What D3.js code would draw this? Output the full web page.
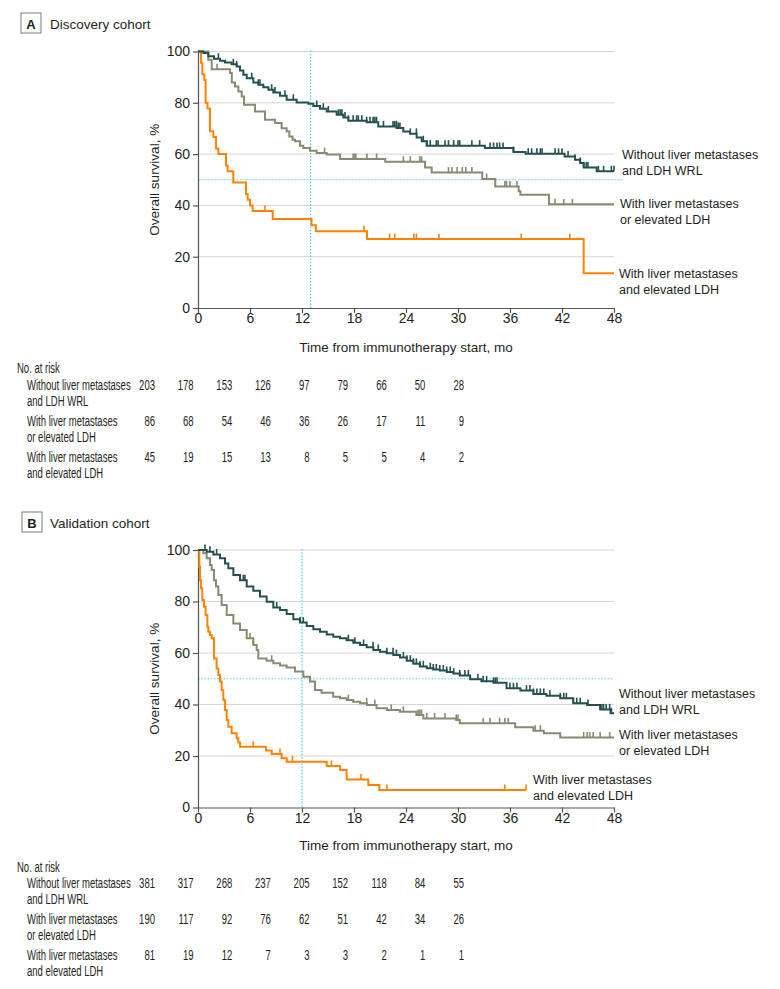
<!DOCTYPE html>
<html><head><meta charset="utf-8">
<script src="https://cdn.jsdelivr.net/npm/d3@7"></script>
<style>
body{margin:0;background:#fff}
svg{display:block}
text{font-family:"Liberation Sans",Arial,sans-serif;fill:#231f20}
</style>
</head><body>
<svg id="chart" width="780" height="989"></svg>
<script>
// ---------- shared ----------
const timeTicks = [0, 6, 12, 18, 24, 30, 36, 42, 48];
const survTicks = [0, 20, 40, 60, 80, 100];
const groupNames = [
  ["Without liver metastases", "and LDH WRL"],
  ["With liver metastases", "or elevated LDH"],
  ["With liver metastases", "and elevated LDH"]
];
const groupNamesTableB = [
  ["Without liver metastases", "and LDH WRL"],
  ["With liver metastases", "or elevated LDH"],
  ["With liver metastases", " and elevated LDH"]
];

// ---------- Panel A: Discovery cohort ----------
const aDarkTime = [0,0.62,1.19,1.85,2.54,3.12,3.88,4.46,4.85,5.23,5.62,6.38,6.96,7.54,8.12,8.69,9.46,10.23,11.38,12.73,13.31,14.08,14.85,16.0,16.77,17.35,19.46,20.8,22.92,23.69,24.46,25.23,25.81,26.38,33.1,36.4,37.8,42.3,43.5,44.1,44.5,46.0];
const aDarkSurv = [100,99.4,98.1,97.2,96.4,95.7,95.0,94.2,92.6,90.9,89.6,87.9,87.0,86.1,85.1,84.0,82.7,81.2,80.1,79.6,78.8,77.7,76.6,75.3,74.3,73.0,72.4,70.8,70.2,68.8,67.9,66.5,65.0,63.3,62.4,60.8,60.1,59.1,57.8,56.5,54.8,53.3];
const aDarkCensor = [2.35,4.08,4.46,6.2,6.96,7.15,8.5,8.88,10.04,11.0,13.7,14.46,15.04,16.2,16.4,16.6,16.96,17.35,17.9,18.3,18.5,18.9,19.46,19.85,20.2,20.4,20.6,21.4,22.5,22.7,22.9,23.1,23.3,24.5,25.2,26.0,26.4,26.8,27.5,27.7,28.5,28.9,29.5,30.0,30.2,31.6,32.5,33.7,34.1,34.5,34.8,35.2,36.4,38.1,38.5,39.1,39.5,39.7,41.2,41.6,42.0,42.7,43.5,44.1,44.5,44.8,45.0,46.2,46.8,47.7,48.0];

const aGreyTime = [0,1.19,1.58,3.7,3.9,4.27,4.66,5.04,5.31,6.58,7.73,8.9,9.65,10.23,10.54,10.92,11.2,11.77,12.15,12.92,13.7,14.85,16.4,21.6,26.2,26.96,32.8,34.3,37.0,37.2,40.5];
const aGreySurv = [100,96.8,93.1,91.6,87.9,86.4,84.4,82.5,79.2,76.6,73.4,72.1,70.1,68.8,66.9,65.6,65.0,63.3,62.4,61.3,60.4,59.8,58.1,57.0,54.8,52.8,50.3,47.4,45.5,44.2,40.4];
const aGreyCensor = [2.2,14.6,17.9,18.1,18.2,19.5,20.6,23.7,24.5,25.6,25.8,28.9,29.3,29.9,30.5,30.9,31.6,33.3,35.4,35.6,36.0,36.8,41.2,42.2,43.2];

const aOrangeTime = [0,0.35,0.5,0.73,0.88,1.1,1.38,1.77,2.08,2.35,3.23,3.42,4.07,5.54,5.73,6.0,6.3,8.62,13.1,13.6,19.5,44.5];
const aOrangeSurv = [100,95.6,91.1,88.9,80.0,77.8,68.9,66.7,62.2,60.0,55.6,53.3,48.9,44.4,42.2,40.0,37.8,34.7,32.3,29.9,26.9,13.5];
const aOrangeCensor = [7.73,19.15,22.1,22.7,24.9,25.2,27.8,37.3,42.9];

const aEndTime = [48, 48, 48];
const aMedianTime = 13;

const aRiskDark = [203,178,153,126,97,79,66,50,28];
const aRiskGrey = [86,68,54,46,36,26,17,11,9];
const aRiskOrange = [45,19,15,13,8,5,5,4,2];

// ---------- Panel B: Validation cohort ----------
const bDarkTime = [0,1.0,1.77,2.54,3.12,3.5,4.08,4.85,5.62,6.38,7.15,7.92,8.69,9.46,10.23,11.0,11.77,12.54,13.31,14.08,14.85,15.61,16.38,17.15,17.92,18.69,19.46,20.23,21.0,21.77,22.54,23.31,24.08,24.85,25.6,26.4,27.15,27.9,28.7,29.46,30.2,31.4,32.7,34.1,35.6,37.2,38.7,40.2,41.8,43.3,44.9,46.4,47.6];
const bDarkSurv = [100,99.35,98.3,96.8,94.8,92.9,90.3,88.3,85.8,84.2,81.9,79.9,77.7,76.7,75.1,73.1,71.8,70.5,69.2,68.3,67.2,66.3,65.7,65.0,64.0,63.1,62.2,61.2,60.5,59.9,59.2,58.3,57.0,55.8,54.8,54.1,53.6,53.2,52.6,52.0,51.3,49.8,49.0,48.4,46.3,45.4,44.1,43.4,42.4,40.5,39.8,38.1,36.6];
const bDarkCensor = [0.81,1.38,2.15,5.23,5.42,9.08,11.77,12.15,17.35,18.1,19.1,20.2,20.8,21.8,22.5,22.9,23.7,24.1,24.5,24.85,25.2,25.6,26.0,26.8,27.15,27.5,27.9,28.3,28.7,29.1,29.5,30.2,30.8,31.2,32.3,32.9,33.3,34.1,34.3,34.5,36.0,36.4,36.8,37.9,38.3,38.7,39.1,39.5,39.9,40.6,41.8,42.2,42.5,43.3,43.7,44.1,45.0,46.6,46.8,47.1,47.5,47.7];

const bGreyTime = [0,0.62,1.0,1.38,1.58,1.85,2.08,2.35,2.73,3.31,4.08,4.85,5.62,6.38,6.77,6.96,7.92,8.69,9.46,10.23,11.2,12.15,12.92,13.5,14.26,15.6,16.4,17.15,17.9,18.7,19.5,20.6,21.8,23.3,25.2,26.0,29.8,30.2,36.6,38.7,39.9,41.8];
const bGreySurv = [100,98.7,96.8,94.2,92.2,88.3,85.8,82.5,78.6,74.8,71.5,68.9,65.7,63.1,61.2,57.9,57.0,56.0,55.1,54.4,52.8,50.8,48.9,45.6,44.6,43.0,42.4,41.7,41.1,40.5,39.8,38.5,37.9,37.2,35.9,34.6,34.0,32.7,31.2,29.8,28.8,27.2];
const bGreyCensor = [6.0,6.38,8.5,17.35,19.46,20.4,22.3,23.7,25.4,25.6,25.8,26.4,27.3,28.5,29.8,30.0,32.9,33.7,34.8,35.4,35.8,38.9,39.5,44.5,44.9,45.2,45.6,46.4,47.5];

const bOrangeTime = [0,0.15,0.23,0.35,0.5,0.69,0.88,1.08,1.19,1.38,1.58,1.85,2.15,2.35,2.54,2.73,2.92,3.12,3.31,3.5,3.88,4.46,4.65,4.85,7.84,8.5,9.65,10.23,14.85,16.4,17.15,19.65,20.92];
const bOrangeSurv = [100,93.5,88.3,85.1,80.6,78.0,74.8,70.2,68.3,67.0,65.7,57.9,54.0,51.5,48.9,45.6,41.7,37.9,34.0,31.4,28.8,26.9,25.2,23.6,22.1,20.8,19.1,17.8,16.1,14.6,10.9,8.7,6.8];
const bOrangeCensor = [6.38,9.46,10.9,15.4,18.8,21.8,35.4,37.85];

const bEndTime = [48, 48, 37.85];
const bMedianTime = 12;

const bRiskDark = [381,317,268,237,205,152,118,84,55];
const bRiskGrey = [190,117,92,76,62,51,42,34,26];
const bRiskOrange = [81,19,12,7,3,3,2,1,1];

// ---------- styles ----------
const colors = ["#24514d", "#8a8972", "#ff8300"];
const svg = d3.select("#chart");

function survAt(times, surv, t) {
  let v = surv[0];
  for (let i = 0; i < times.length; i++) { if (times[i] <= t) v = surv[i]; else break; }
  return v;
}

function drawPanel(p) {
  const x = d3.scaleLinear().domain([0, 48]).range([198, 614]);
  const y = d3.scaleLinear().domain([0, 100]).range([p.y0, p.y100]);
  const g = svg.append("g");

  // title box
  g.append("rect").attr("x", p.boxX).attr("y", p.boxY).attr("width", 20).attr("height", 20)
    .attr("fill", "#fff").attr("stroke", "#7a7a7a").attr("stroke-width", 1);
  g.append("text").attr("x", p.boxX + 10).attr("y", p.boxY + 15.5).attr("text-anchor", "middle")
    .style("font-size", "13px").style("font-weight", "bold").text(p.letter);
  g.append("text").attr("x", 50).attr("y", p.boxY + 15.5).style("font-size", "13.5px").text(p.title);

  // grid
  g.selectAll(".grid").data(survTicks.filter(d => d > 0)).join("line")
    .attr("x1", x(0)).attr("x2", x(48)).attr("y1", d => y(d)).attr("y2", d => y(d))
    .attr("stroke", "#d6d6d6").attr("stroke-width", 1);

  // median reference lines
  g.append("line").attr("x1", x(0)).attr("x2", p.hLineEnd).attr("y1", y(50)).attr("y2", y(50))
    .attr("stroke", "#45d6e6").attr("stroke-width", 1.2).attr("stroke-dasharray", "1.6,1.6");
  g.append("line").attr("x1", x(p.median)).attr("x2", x(p.median)).attr("y1", y(100) - 1).attr("y2", y(0))
    .attr("stroke", "#45d6e6").attr("stroke-width", 1.2).attr("stroke-dasharray", "1.6,1.6");

  // axes
  const ya = g.append("g").attr("transform", `translate(${x(0)},0)`)
    .call(d3.axisLeft(y).tickValues(survTicks).tickSize(5).tickPadding(3).tickSizeOuter(0));
  const xa = g.append("g").attr("transform", `translate(0,${y(0)})`)
    .call(d3.axisBottom(x).tickValues(timeTicks).tickSize(5).tickSizeOuter(0));
  [ya, xa].forEach(a => {
    a.select(".domain").attr("stroke", "#555").attr("stroke-width", 1.2);
    a.selectAll(".tick line").attr("stroke", "#555").attr("stroke-width", 1.2);
    a.selectAll("text").style("font-size", "14px").attr("fill", "#231f20")
      .style("font-family", '"Liberation Sans",Arial,sans-serif');
  });
  xa.selectAll("text").attr("y", 15).attr("dy", 0);

  g.append("text").attr("transform", `translate(158.5,${(y(0) + y(100)) / 2}) rotate(-90)`)
    .attr("text-anchor", "middle").style("font-size", "13.5px").text("Overall survival, %");
  g.append("text").attr("x", (x(0) + x(48)) / 2).attr("y", p.xTitleY).attr("text-anchor", "middle")
    .style("font-size", "13.5px").text("Time from immunotherapy start, mo");

  // curves (draw orange, grey, then dark)
  const line = d3.line().x(d => x(d[0])).y(d => y(d[1])).curve(d3.curveStepAfter);
  [2, 1, 0].forEach(i => {
    const s = p.series[i];
    const pts = s.time.map((t, k) => [t, s.surv[k]]);
    pts.push([s.end, s.surv[s.surv.length - 1]]);
    g.append("path").attr("d", line(pts)).attr("fill", "none")
      .attr("stroke", colors[i]).attr("stroke-width", 2);
    g.selectAll(null).data(s.censor).join("line")
      .attr("x1", d => x(d)).attr("x2", d => x(d))
      .attr("y1", d => y(survAt(s.time, s.surv, d)))
      .attr("y2", d => y(survAt(s.time, s.surv, d)) - 5.5)
      .attr("stroke", colors[i]).attr("stroke-width", 1.6);
  });

  // right labels
  p.labels.forEach((lb, i) => {
    groupNames[i].forEach((txt, j) => {
      g.append("text").attr("x", lb[0]).attr("y", lb[1] + j * 16)
        .style("font-size", "12.5px").text(txt);
    });
  });

  // at-risk table
  const xr = d3.scalePoint().domain(timeTicks).range([155, 464]);
  const sx = 0.68;
  const tt = (xx, yy, txt, anchor) => g.append("text")
    .attr("transform", `translate(${xx},${yy}) scale(${sx},1)`)
    .attr("text-anchor", anchor || "start").style("font-size", "14px").text(txt);
  tt(17, p.tableY, "No. at risk");
  p.risk.forEach((arr, i) => {
    const by = p.rowY[i];
    p.tableNames[i].forEach((txt, j) => tt(27, by + j * 16, txt));
    arr.forEach((v, k) => tt(xr(timeTicks[k]), by, v, "end"));
  });
}

drawPanel({
  letter: "A", title: "Discovery cohort", boxX: 21, boxY: 13,
  y0: 308, y100: 51.5, median: aMedianTime, hLineEnd: 623, xTitleY: 352,
  series: [
    { time: aDarkTime, surv: aDarkSurv, censor: aDarkCensor, end: aEndTime[0] },
    { time: aGreyTime, surv: aGreySurv, censor: aGreyCensor, end: aEndTime[1] },
    { time: aOrangeTime, surv: aOrangeSurv, censor: aOrangeCensor, end: aEndTime[2] }
  ],
  labels: [[622, 158.5], [620, 207.5], [619, 277.5]],
  tableY: 373, rowY: [390, 425.7, 461.7], tableNames: groupNames,
  risk: [aRiskDark, aRiskGrey, aRiskOrange]
});

drawPanel({
  letter: "B", title: "Validation cohort", boxX: 22, boxY: 512,
  y0: 807.5, y100: 550, median: bMedianTime, hLineEnd: 614, xTitleY: 850,
  series: [
    { time: bDarkTime, surv: bDarkSurv, censor: bDarkCensor, end: bEndTime[0] },
    { time: bGreyTime, surv: bGreySurv, censor: bGreyCensor, end: bEndTime[1] },
    { time: bOrangeTime, surv: bOrangeSurv, censor: bOrangeCensor, end: bEndTime[2] }
  ],
  labels: [[619, 697.5], [619, 738.5], [533, 783.5]],
  tableY: 871.7, rowY: [888.3, 924.3, 960], tableNames: groupNamesTableB,
  risk: [bRiskDark, bRiskGrey, bRiskOrange]
});
</script>
</body></html>
